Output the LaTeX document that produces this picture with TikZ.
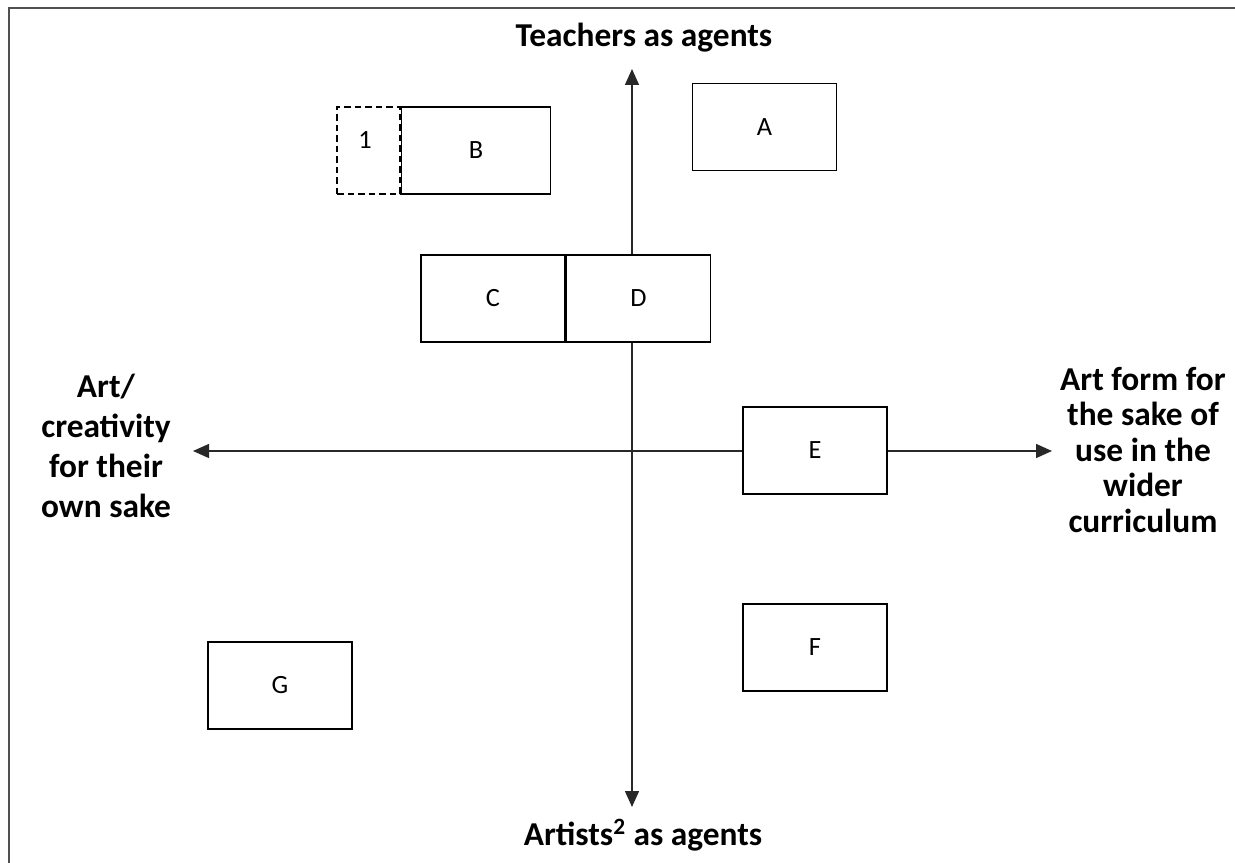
\documentclass[tikz,border=0pt]{standalone}
\usepackage{fontspec}
\setmainfont{Carlito}
\usetikzlibrary{arrows.meta, positioning}
\definecolor{framegray}{RGB}{80, 80, 80}
\definecolor{axisgray}{RGB}{40, 40, 40}

\begin{document}
\begin{tikzpicture}[x=0.2mm, y=-0.2mm,
	box/.style={draw=black, line width=0.3mm, fill=white, minimum width=\bw, minimum height=\bh, inner sep=0pt, font=\fontsize{15}{18}\selectfont},
	dashbox/.style={box, dash pattern=on 1.3mm off 0.8mm, minimum width=12.6mm},
	axis/.style={draw=axisgray, line width=0.3mm, {Triangle[length=3.2mm, width=2.8mm]}-{Triangle[length=3.2mm, width=2.8mm]}},
	pole/.style={font=\fontsize{19}{22.7}\selectfont\bfseries, align=center}]
			\def\bw{28.8mm}
			\def\bh{17.4mm}

			\useasboundingbox (0, 0) rectangle (1235, 863);

			% Outer frame (only top and left visible)
			\draw[framegray, line width=0.5mm] (9, 863) -- (9, 8) -- (1235, 8);

			% --- Axes ---
			\coordinate (up) at (632, 69);
			\coordinate (down) at (632, 807);
			\coordinate (west) at (193, 451);
			\coordinate (east) at (1052, 451);
			\draw[axis] (down) -- (up);
			\draw[axis] (west) -- (east);

			% Pole labels
			\node[pole] (tlab) at (644, 38) {Teachers as agents};
			\node[pole] (blab) at (643, 835) {Artists\textsuperscript{2} as agents};
			\node[pole] (llab) at (106, 446) {Art/\\creativity\\for their\\own sake};
			\node[pole, font=\fontsize{19}{20.2}\selectfont\bfseries] (rlab) at (1143, 450) {Art form for\\the sake of\\use in the\\wider\\curriculum};

			% --- Boxes ---
			\node[box] (A) at (764.5, 127) {A};
			\node[dashbox] (one) at (368.5, 150.5) {};
			\node[box, minimum width=29.8mm, right=0pt of one] (B) {B};
			\node[font=\fontsize{15}{18}\selectfont] (onelab) at (365, 140) {1};
			\node[box] (C) at (493, 298.5) {C};
			\node[box, right=0pt of C] (D) {D};
			\node[box] (E) at (815, 450.5) {E};
			\node[box] (F) at (815, 647.5) {F};
			\node[box] (G) at (280, 685.5) {G};
		\end{tikzpicture}
\end{document}
